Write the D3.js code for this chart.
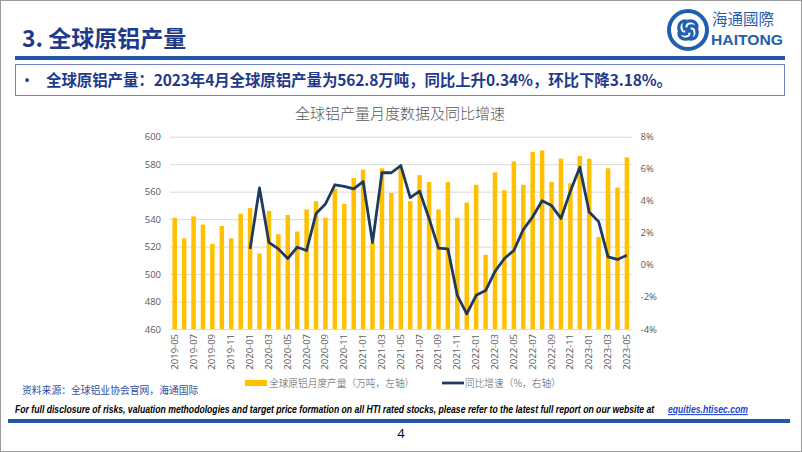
<!DOCTYPE html>
<html><head><meta charset="utf-8">
<script src="https://cdn.jsdelivr.net/npm/d3@7/dist/d3.min.js"></script>
<style>
html,body{margin:0;padding:0;background:#fff;}
svg{display:block;}
</style></head>
<body><svg id="c" width="802" height="452"></svg>
<script>
const months = ["2019-05","2019-06","2019-07","2019-08","2019-09","2019-10","2019-11","2019-12",
"2020-01","2020-02","2020-03","2020-04","2020-05","2020-06","2020-07","2020-08","2020-09","2020-10","2020-11","2020-12",
"2021-01","2021-02","2021-03","2021-04","2021-05","2021-06","2021-07","2021-08","2021-09","2021-10","2021-11","2021-12",
"2022-01","2022-02","2022-03","2022-04","2022-05","2022-06","2022-07","2022-08","2022-09","2022-10","2022-11","2022-12",
"2023-01","2023-02","2023-03","2023-04","2023-05"];
const production = [541,526,542,536,522,535,526,544,
548,515,546,529,543,531,547,553,541,562,551,570,
576,523,577,559,577,553,572,567,547,567,541,552,
565,514,574,561,582,565,589,590,567,584,566,586,
584,527,577,563,585];
const yoy = [null,null,null,null,null,null,null,null,
1.0,4.8,1.4,1.0,0.4,1.1,0.9,3.2,3.8,5.0,4.9,4.75,
5.2,1.4,5.75,5.75,6.2,4.2,4.6,2.9,1.05,1.0,-1.9,-3.05,
-1.9,-1.6,-0.4,0.4,0.9,2.2,3.0,4.0,3.7,2.9,4.6,6.1,
3.3,2.7,0.5,0.34,0.6];
const leftTicks = [460,480,500,520,540,560,580,600];
const rightTicks = [-4,-2,0,2,4,6,8];
const pageTitle = "3. 全球原铝产量";
const summary = "全球原铝产量：2023年4月全球原铝产量为562.8万吨，同比上升0.34%，环比下降3.18%。";
const chartTitle = "全球铝产量月度数据及同比增速";
const legendLabels = ["全球原铝月度产量（万吨，左轴）","同比增速（%，右轴）"];
const sourceText = "资料来源：全球铝业协会官网，海通国际";
const disclaimer = "For full disclosure of risks, valuation methodologies and target price formation on all HTI rated stocks, please refer to the latest full report on our website at";
const link = "equities.htisec.com";

const svg = d3.select("#c");
const CJK = "'Noto Sans CJK SC','Noto Sans',sans-serif";
const NUM = "'Open Sans','Liberation Sans',sans-serif";

// outer frame
svg.append("rect").attr("x",0.5).attr("y",0.5).attr("width",801).attr("height",451)
  .attr("fill","none").attr("stroke","#9a9a9a");

// header
svg.append("text").attr("x",22).attr("y",47).text(pageTitle)
  .attr("font-family",CJK).attr("font-weight",700).attr("font-size",23).attr("fill","#1f3a8a");
svg.append("rect").attr("x",15).attr("y",56).attr("width",770).attr("height",4).attr("fill","#2458a6");

// logo
const lg = svg.append("g").attr("transform","translate(688,30)");
lg.append("circle").attr("r",19).attr("fill","none").attr("stroke","#1f5fae").attr("stroke-width",4);
for (let k=0;k<4;k++){
  lg.append("path").attr("d","M0,-3 C6,-6 10,-2 9,4 C8,9 3,10 1,8")
    .attr("fill","none").attr("stroke","#1f5fae").attr("stroke-width",3.2)
    .attr("transform",`rotate(${k*90})`);
}
lg.append("circle").attr("r",3).attr("fill","#1f5fae");
svg.append("text").attr("x",712).attr("y",25).text("海通國際")
  .attr("font-family",CJK).attr("font-size",15.5).attr("fill","#1f5fae");
svg.append("text").attr("x",711).attr("y",45).text("HAITONG")
  .attr("font-family","'Liberation Sans',sans-serif").attr("font-weight",700).attr("font-size",15)
  .attr("textLength",72).attr("lengthAdjust","spacingAndGlyphs").attr("fill","#1f5fae");

// summary box
svg.append("rect").attr("x",15.5).attr("y",64.5).attr("width",769).attr("height",31)
  .attr("fill","#fff").attr("stroke","#7080c0").attr("stroke-width",1);
svg.append("text").attr("x",24).attr("y",86).text("•")
  .attr("font-family",NUM).attr("font-size",16).attr("fill","#1f3a8a");
svg.append("text").attr("x",46).attr("y",86).text(summary)
  .attr("font-family",CJK).attr("font-weight",700).attr("font-size",15.5)
  .attr("textLength",626).attr("fill","#1f3a8a");

// chart title
svg.append("text").attr("x",400).attr("y",119).attr("text-anchor","middle").text(chartTitle)
  .attr("font-family",CJK).attr("font-weight",300).attr("font-size",15).attr("fill","#595959");

// scales
const plotL = 170, plotR = 631.6, plotT = 136.7, plotB = 329;
const x = d3.scaleBand().domain(months).range([plotL, plotR]).paddingInner(0.52).paddingOuter(0.26);
const yL = d3.scaleLinear().domain([460,600]).range([plotB, plotT]);
const yR = d3.scaleLinear().domain([-4,8]).range([plotB, plotT]);

// gridlines
const grid = svg.append("g").attr("transform",`translate(${plotL},0)`)
  .call(d3.axisLeft(yL).tickValues(leftTicks).tickSize(-(plotR-plotL)).tickFormat(""));
grid.select(".domain").remove();
grid.selectAll("line").attr("stroke","#d9d9d9").attr("stroke-width",1);

// left axis labels
const ax = svg.append("g").attr("transform",`translate(${plotL-9},0)`)
  .call(d3.axisLeft(yL).tickValues(leftTicks).tickSize(0).tickPadding(0));
ax.select(".domain").remove();
ax.selectAll("text").attr("font-family",NUM).attr("font-size",9.5).attr("fill","#595959");

// right axis labels
const ar = svg.append("g").attr("transform",`translate(${plotR+9},0)`)
  .call(d3.axisRight(yR).tickValues(rightTicks).tickSize(0).tickPadding(0).tickFormat(d=>d+"%"));
ar.select(".domain").remove();
ar.selectAll("text").attr("font-family",NUM).attr("font-size",9.5).attr("fill","#595959");

// bars
svg.append("g").selectAll("rect").data(production).join("rect")
  .attr("x",(d,i)=>x(months[i]))
  .attr("width",x.bandwidth())
  .attr("y",d=>yL(d))
  .attr("height",d=>plotB-yL(d))
  .attr("fill","#ffc000");

// line
const line = d3.line()
  .defined(d=>d.v!==null)
  .x(d=>x(d.m)+x.bandwidth()/2)
  .y(d=>yR(d.v));
svg.append("path").datum(months.map((m,i)=>({m:m,v:yoy[i]})))
  .attr("d",line).attr("fill","none").attr("stroke","#1f3a5f").attr("stroke-width",2.8)
  .attr("stroke-linejoin","round");

// x axis
const xa = svg.append("g").attr("transform",`translate(0,${plotB})`)
  .call(d3.axisBottom(x).tickValues(months.filter((m,i)=>i%2===0)).tickSize(0).tickPadding(0));
xa.select(".domain").attr("stroke","#d9d9d9");
xa.selectAll("text")
  .attr("font-family",NUM).attr("font-size",9.5).attr("fill","#595959")
  .attr("text-anchor","end").attr("dy",null).attr("dx",null)
  .attr("transform","translate(-0.5,5) rotate(-90)")
  .attr("x",0).attr("y",3.5);

// legend
svg.append("rect").attr("x",245).attr("y",380).attr("width",22).attr("height",6).attr("fill","#ffc000");
svg.append("text").attr("x",269).attr("y",387).text(legendLabels[0])
  .attr("font-family",CJK).attr("font-weight",300).attr("font-size",9.7).attr("fill","#595959");
svg.append("line").attr("x1",442).attr("x2",464).attr("y1",383).attr("y2",383)
  .attr("stroke","#1f3a5f").attr("stroke-width",2.8);
svg.append("text").attr("x",465).attr("y",387).text(legendLabels[1])
  .attr("font-family",CJK).attr("font-weight",300).attr("font-size",9.7).attr("fill","#595959");

// source
svg.append("text").attr("x",22).attr("y",394).text(sourceText)
  .attr("font-family",CJK).attr("font-size",9.8).attr("fill","#2f4ea0");

// disclaimer (squeezed horizontally via transform so its box matches what is drawn)
function squeezed(str, x0, y0, w, fill, underline){
  const t = svg.append("text").attr("x",0).attr("y",0).text(str)
    .attr("font-family","'Liberation Sans Narrow','Liberation Sans',sans-serif")
    .attr("font-style","italic").attr("font-weight",700).attr("font-size",10.5).attr("fill",fill);
  if (underline) t.attr("text-decoration","underline");
  const nat = t.node().getComputedTextLength();
  t.attr("transform",`translate(${x0},${y0}) scale(${w/nat},1)`);
  return t;
}
squeezed(disclaimer, 15, 413, 640, "#000", false);
squeezed(link, 668, 413, 80, "#1f3fd0", true);

svg.append("rect").attr("x",8).attr("y",419).attr("width",782).attr("height",4).attr("fill","#2458a6");
svg.append("text").attr("x",401).attr("y",438).attr("text-anchor","middle").text("4")
  .attr("font-family",NUM).attr("font-size",13).attr("fill","#000");
</script></body></html>
